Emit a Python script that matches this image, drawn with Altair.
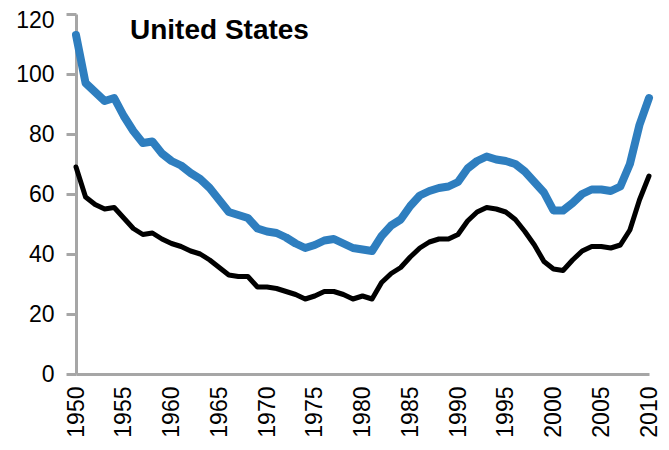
import altair as alt
import pandas as pd

years = list(range(1950, 2011))

blue_values = [113, 97, 94, 91, 92, 86, 81, 77, 77.5, 73.5,
               71, 69.5, 67, 65, 62, 58, 54, 53, 52, 48.5,
               47.5, 47, 45.5, 43.5, 42, 43, 44.5, 45, 43.5, 42,
               41.5, 41, 46, 49.5, 51.5, 56, 59.5, 61, 62, 62.5,
               64, 68.5, 71, 72.5, 71.5, 71, 70, 67.5, 64, 60.5,
               54.5, 54.5, 57, 60, 61.5, 61.5, 61, 62.5, 70, 83,
               92]

black_values = [69, 59, 56.5, 55, 55.5, 52, 48.5, 46.5, 47, 45,
                43.5, 42.5, 41, 40, 38, 35.5, 33, 32.5, 32.5, 29,
                29, 28.5, 27.5, 26.5, 25, 26, 27.5, 27.5, 26.5, 25,
                26, 25, 30.5, 33.5, 35.5, 39, 42, 44, 45, 45,
                46.5, 51, 54, 55.5, 55, 54, 51.5, 47.5, 43, 37.5,
                35, 34.5, 38, 41, 42.5, 42.5, 42, 43, 48, 58,
                66]

x_ticks = [1950, 1955, 1960, 1965, 1970, 1975, 1980, 1985, 1990, 1995, 2000, 2005, 2010]
y_ticks = [0, 20, 40, 60, 80, 100, 120]
title_text = ["United States"]

df_blue = pd.DataFrame({"year": years, "value": blue_values})
df_black = pd.DataFrame({"year": years, "value": black_values})

FONT = "Liberation Sans"
AXIS_GREY = "#a6a6a6"

x_enc = alt.X(
    "year:Q",
    scale=alt.Scale(domain=[1950, 2010], nice=False, zero=False),
    axis=alt.Axis(
        values=x_ticks, format="d", labelAngle=-90, title=None,
        ticks=False, grid=False, domainColor=AXIS_GREY, domainWidth=3,
        labelFont=FONT, labelFontSize=23, labelColor="#000000",
        labelPadding=12, labelFlush=False, labelOverlap=False,
    ),
)
y_enc = alt.Y(
    "value:Q",
    scale=alt.Scale(domain=[0, 120], nice=False),
    axis=alt.Axis(
        values=y_ticks, title=None, grid=False,
        domainColor=AXIS_GREY, domainWidth=3,
        tickColor=AXIS_GREY, tickWidth=3, tickSize=10,
        labelFont=FONT, labelFontSize=23, labelColor="#000000",
        labelPadding=12, labelFlush=False, labelOverlap=False,
        labelOffset={"condition": {"test": "datum.value == 120", "value": 6}, "value": 0},
    ),
)

blue = alt.Chart(df_blue).mark_line(
    color="#2e7ebf", strokeWidth=8, strokeCap="round", strokeJoin="round"
).encode(x=x_enc, y=y_enc)

black = alt.Chart(df_black).mark_line(
    color="#000000", strokeWidth=5, strokeCap="round", strokeJoin="round"
).encode(x="year:Q", y="value:Q")

title = alt.Chart(pd.DataFrame({"t": title_text})).mark_text(
    align="left", baseline="alphabetic", font=FONT, fontSize=28,
    fontWeight="bold", color="#000000"
).encode(text="t:N", x=alt.value(54), y=alt.value(25))

chart = alt.layer(blue, black, title).properties(
    width=573, height=360,
    autosize=alt.AutoSizeParams(type="none"),
    padding={"left": 68, "top": 6, "right": 12, "bottom": 63},
).configure_view(stroke=None)

chart.save("out.html", embed_options={"renderer": "svg", "actions": False})
